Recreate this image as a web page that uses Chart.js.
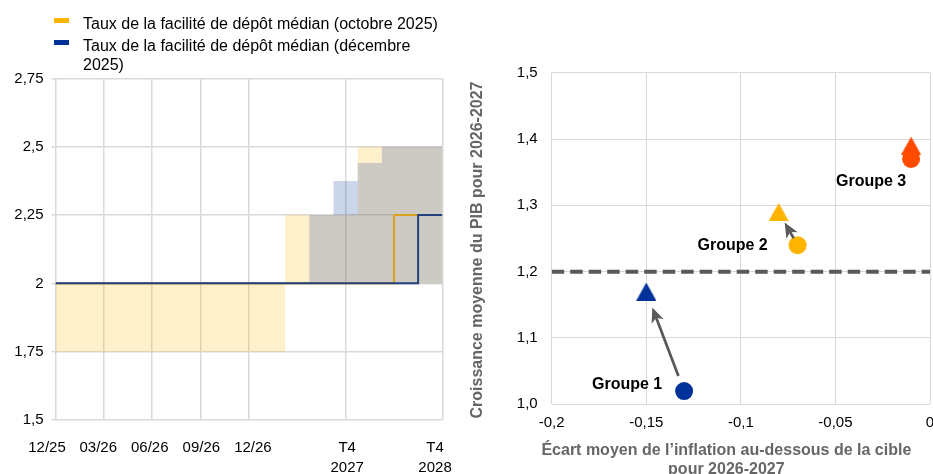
<!DOCTYPE html>
<html lang="fr">
<head>
<meta charset="utf-8">
<title>Taux de la facilité de dépôt et perspectives</title>
<script src="https://cdn.jsdelivr.net/npm/chart.js@4.4.1/dist/chart.umd.min.js"></script>
<style>
  html, body { margin: 0; padding: 0; width: 933px; height: 474px; overflow: hidden; background: #fff; }
  #wrap { position: relative; width: 933px; height: 474px; overflow: hidden; }
  canvas { position: absolute; top: 0; }
  #rates { left: 0; }
  #groups { left: 460px; }
  #legend { position: absolute; left: 0; top: 0; font-family: "Liberation Sans", Arial, sans-serif; font-size: 16px; color: #000; }
  #legend .swatch { position: absolute; left: 54px; width: 15px; height: 5px; }
  #legend .text { position: absolute; left: 83px; width: 365px; line-height: 19px; }
</style>
</head>
<body>
<div id="wrap">
  <canvas id="rates" width="460" height="490"></canvas>
  <canvas id="groups" width="480" height="490"></canvas>
  <div id="legend"></div>
</div>
<script>
const FONT = '"Liberation Sans", Arial, sans-serif';

// ---------- Left panel: deposit facility rate expectations ----------
// Horizontal units: 2 per month from 12/25 to 12/26, then 3 per quarter.
const rateTicks = [1.5, 1.75, 2, 2.25, 2.5, 2.75];
const periodGrid = [0, 6, 12, 18, 24, 36, 48];
const periodLabels = ['12/25', '03/26', '06/26', '09/26', '12/26', ['T4', '2027'], ['T4', '2028']];
const periodLabelAt = [-1.05, 5.3, 11.7, 18.1, 24.5, 36.2, 47.1];

// Interquartile ranges, each value holding until the next boundary
const rangeStepX = [0, 28.5, 31.5, 34.5, 37.5, 40.5, 48];
const octLow  = [1.75, 2.0, 2.0, 2.0, 2.0, 2.0, 2.0];
const octHigh = [2.0, 2.25, 2.25, 2.25, 2.5, 2.5, 2.5];
const decLow  = [2.0, 2.0, 2.0, 2.0, 2.0, 2.0, 2.0];
const decHigh = [2.0, 2.0, 2.25, 2.375, 2.44, 2.5, 2.5];

// Median paths
const octMedianX = [0, 42, 48];
const octMedian  = [2.0, 2.25, 2.25];
const decMedianX = [0, 45, 48];
const decMedian  = [2.0, 2.25, 2.25];

const seriesNames = [
  'Taux de la facilité de dépôt médian (octobre 2025)',
  'Taux de la facilité de dépôt médian (décembre 2025)'
];
const seriesColors = ['#FFB400', '#003299'];

// ---------- Right panel: inflation gap vs GDP growth ----------
const groupNames = ['Groupe 1', 'Groupe 2', 'Groupe 3'];
const gapOct = [-0.13, -0.07, -0.01];
const gdpOct = [1.02, 1.24, 1.37];
const gapDec = [-0.15, -0.08, -0.01];
const gdpDec = [1.17, 1.29, 1.39];
const gdpReference = 1.2;
const gapTicks = [-0.2, -0.15, -0.1, -0.05, 0];
const gdpTicks = [1.0, 1.1, 1.2, 1.3, 1.4, 1.5];
const xTitle = ['Écart moyen de l’inflation au-dessous de la cible', 'pour 2026-2027'];
const yTitle = 'Croissance moyenne du PIB pour 2026-2027';

// ---------- styling ----------
const groupColors = ['#003299', '#FFB400', '#FF4B00'];
const arrowTrim = [[16, 17], [8, 12], null];          // px cut from tail / tip
const labelOffset = [[-57, -6], [-65, 0], [-40, 23]]; // px from the October marker
const GRID = '#D9D9D9';

const pts = (xs, ys) => xs.map((x, i) => ({ x, y: ys[i] }));
const comma = v => String(v).replace('.', ',');

// HTML legend
const legend = document.getElementById('legend');
const legendTops = [14, 36];
seriesNames.forEach((name, i) => {
  const sw = document.createElement('div');
  sw.className = 'swatch';
  sw.style.top = (legendTops[i] + 4) + 'px';
  sw.style.background = seriesColors[i];
  const tx = document.createElement('div');
  tx.className = 'text';
  tx.style.top = legendTops[i] + 'px';
  tx.textContent = name;
  legend.appendChild(sw);
  legend.appendChild(tx);
});

const band = (xs, ys, color, fill, order) => ({
  data: pts(xs, ys), stepped: true, borderWidth: 0, pointRadius: 0,
  backgroundColor: color, fill, order
});

new Chart(document.getElementById('rates'), {
  type: 'line',
  data: {
    datasets: [
      { label: seriesNames[1], data: pts(decMedianX, decMedian), stepped: true,
        borderColor: '#23417D', borderWidth: 2, pointRadius: 0, fill: false, order: 0 },
      { label: seriesNames[0], data: pts(octMedianX, octMedian), stepped: true,
        borderColor: '#D9A21F', borderWidth: 2, pointRadius: 0, fill: false, order: 1 },
      band(rangeStepX, decLow, 'transparent', false, 2),
      band(rangeStepX, decHigh, 'rgba(0,50,153,0.2)', 2, 2),
      band(rangeStepX, octLow, 'transparent', false, 3),
      band(rangeStepX, octHigh, 'rgba(255,180,0,0.2)', 4, 3)
    ]
  },
  options: {
    responsive: false, animation: false,
    layout: { padding: { top: 78.4, right: 17.7, left: 0, bottom: 0 } },
    plugins: { legend: { display: false }, tooltip: { enabled: false } },
    scales: {
      x: {
        type: 'linear', min: 0, max: 48,
        afterBuildTicks: s => { s.ticks = periodGrid.map(v => ({ value: v })); },
        ticks: { display: false },
        grid: { color: GRID, lineWidth: 1.5, drawTicks: false },
        border: { display: false },
        afterFit: s => { s.height = 0; s.paddingLeft = 0; s.paddingRight = 0; }
      },
      xl: {
        type: 'linear', position: 'bottom', weight: 1, min: 0, max: 48,
        afterBuildTicks: s => { s.ticks = periodLabelAt.map(v => ({ value: v })); },
        ticks: { callback: (v, i) => periodLabels[i], autoSkip: false, maxRotation: 0,
                 font: { family: FONT, size: 15, lineHeight: 1.33 }, color: '#000', padding: 10 },
        grid: { display: false }, border: { display: false },
        afterFit: s => { s.height = 70; s.paddingLeft = 0; s.paddingRight = 0; }
      },
      y: {
        min: 1.5, max: 2.75,
        afterBuildTicks: s => { s.ticks = rateTicks.map(v => ({ value: v })); },
        ticks: { callback: v => comma(v), font: { family: FONT, size: 15 }, color: '#000', padding: 8 },
        grid: { color: GRID, lineWidth: 1.5, tickLength: 4 },
        border: { display: false },
        afterFit: s => { s.width = 55.5; }
      }
    }
  }
});

// Triangle marker, centred on its bounding box
function triangle(color) {
  const c = document.createElement('canvas');
  c.width = 20; c.height = 18;
  const g = c.getContext('2d');
  g.fillStyle = color;
  g.beginPath(); g.moveTo(10, 0); g.lineTo(20, 18); g.lineTo(0, 18); g.closePath(); g.fill();
  return c;
}

const groupAnnotations = {
  id: 'groupAnnotations',
  afterDatasetsDraw(chart) {
    const { ctx, chartArea: a, scales: { x, y } } = chart;
    ctx.save();
    // arrows from the October position to the December position
    groupNames.forEach((g, i) => {
      const trim = arrowTrim[i];
      if (!trim) return;
      const x0 = x.getPixelForValue(gapOct[i]), y0 = y.getPixelForValue(gdpOct[i]);
      const x1 = x.getPixelForValue(gapDec[i]), y1 = y.getPixelForValue(gdpDec[i]);
      const len = Math.hypot(x1 - x0, y1 - y0), ux = (x1 - x0) / len, uy = (y1 - y0) / len;
      const sx = x0 + ux * trim[0], sy = y0 + uy * trim[0];
      const ex = x1 - ux * trim[1], ey = y1 - uy * trim[1];
      const head = 15, half = 6.5;
      const bx = ex - ux * head, by = ey - uy * head;
      ctx.strokeStyle = '#595959'; ctx.fillStyle = '#595959'; ctx.lineWidth = 2.75;
      ctx.beginPath(); ctx.moveTo(sx, sy); ctx.lineTo(bx + ux * 4, by + uy * 4); ctx.stroke();
      ctx.beginPath();
      ctx.moveTo(ex, ey);
      ctx.lineTo(bx - uy * half, by + ux * half);
      ctx.lineTo(bx + ux * 4, by + uy * 4);
      ctx.lineTo(bx + uy * half, by - ux * half);
      ctx.closePath(); ctx.fill();
    });
    // group names
    ctx.font = `bold 16px ${FONT}`; ctx.fillStyle = '#000';
    ctx.textAlign = 'center'; ctx.textBaseline = 'middle';
    groupNames.forEach((g, i) => {
      ctx.fillText(g, x.getPixelForValue(gapOct[i]) + labelOffset[i][0],
                      y.getPixelForValue(gdpOct[i]) + labelOffset[i][1]);
    });
    // axis titles
    ctx.fillStyle = '#666666';
    const cx = (a.left + a.right) / 2 - 14.5;
    xTitle.forEach((t, i) => ctx.fillText(t, cx, a.bottom + 46 + i * 19));
    ctx.translate(18, (a.top + a.bottom) / 2 + 11.5);
    ctx.rotate(-Math.PI / 2);
    ctx.fillText(yTitle, 0, 0);
    ctx.restore();
  }
};

new Chart(document.getElementById('groups'), {
  type: 'scatter',
  data: {
    datasets: [
      { label: 'Référence', data: [{ x: gapTicks[0], y: gdpReference }, { x: gapTicks[gapTicks.length - 1], y: gdpReference }],
        showLine: true, borderColor: '#595959', borderWidth: 4, borderDash: [12.5, 6], pointRadius: 0 },
      { label: 'Octobre 2025', data: pts(gapOct, gdpOct), pointStyle: 'circle', pointRadius: 9,
        pointBorderWidth: 0, backgroundColor: groupColors, pointBackgroundColor: groupColors },
      { label: 'Décembre 2025', data: pts(gapDec, gdpDec), pointStyle: groupColors.map(triangle),
        pointRadius: 10, pointBorderWidth: 0, pointBackgroundColor: groupColors }
    ]
  },
  options: {
    responsive: false, animation: false,
    layout: { padding: { top: 72.7, right: 8.3, left: 0, bottom: 0 } },
    plugins: { legend: { display: false }, tooltip: { enabled: false } },
    scales: {
      x: {
        type: 'linear', min: -0.2, max: 0,
        afterBuildTicks: s => { s.ticks = gapTicks.map(v => ({ value: v })); },
        ticks: { callback: v => comma(v), font: { family: FONT, size: 15 }, color: '#000', padding: 10 },
        grid: { color: GRID, lineWidth: 1, drawTicks: false },
        border: { display: false },
        afterFit: s => { s.height = 85.7; s.paddingLeft = 0; s.paddingRight = 0; }
      },
      y: {
        min: 1.0, max: 1.5,
        afterBuildTicks: s => { s.ticks = gdpTicks.map(v => ({ value: v })); },
        ticks: { callback: v => v.toFixed(1).replace('.', ','), font: { family: FONT, size: 15 }, color: '#000', padding: 14 },
        grid: { color: GRID, lineWidth: 1, drawTicks: false },
        border: { display: false },
        afterFit: s => { s.width = 91.7; }
      }
    }
  },
  plugins: [groupAnnotations]
});
</script>
</body>
</html>
